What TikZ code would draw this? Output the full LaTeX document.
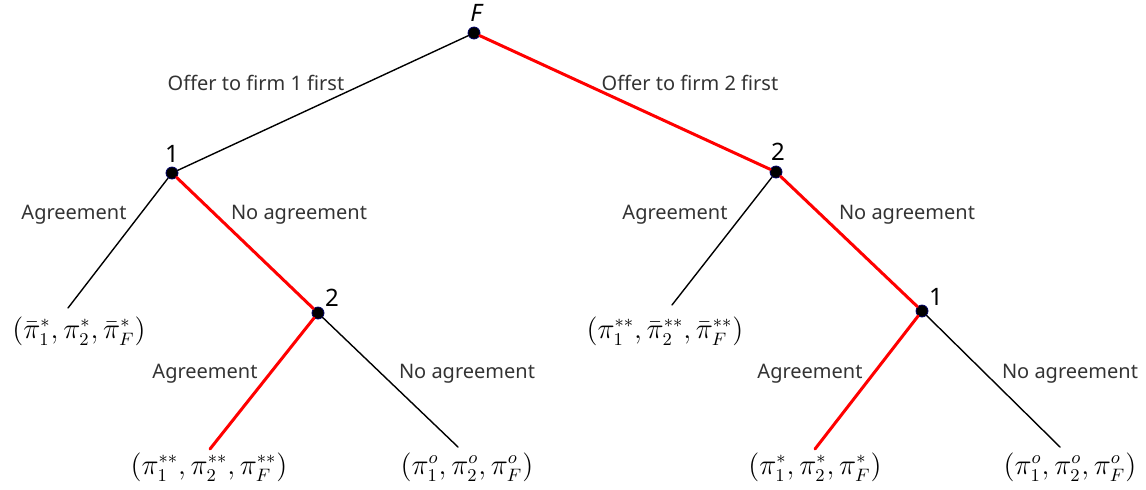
\documentclass[tikz,border=0pt]{standalone}
\usepackage{amsmath}
\usepackage{fontspec}
\setmainfont{Noto Sans}
\usepackage{tikz}
\tikzset{
  every picture/.style={line join=round, line cap=round},
  dec/.style={circle, fill=black, draw=blue!40!black, line width=0.4pt,
    inner sep=0pt, minimum size=6pt},
  plain/.style={draw=black, line width=0.7pt},
  eq/.style={draw=red, line width=1.5pt},
  lab/.style={font=\fontsize{10}{12}\selectfont, text=black!80},
  pay/.style={font=\fontsize{13.5}{15}\selectfont, inner sep=1pt},
  who/.style={font=\fontsize{12}{14}\selectfont},
}
\begin{document}
\begin{tikzpicture}[x=0.5pt,y=-0.5pt]
\useasboundingbox (0,0) rectangle (1146,489);
% decision nodes
\node[dec](F) at (474,33){};
\node[dec](n1) at (172,173){};
\node[dec](n2) at (776,172){};
\node[dec](n12) at (318,313){};
\node[dec](n21) at (922,311){};
\node[who] at (476,13) {\itshape F};
\node[who] at (172,154) {1};
\node[who] at (778,152) {2};
\node[who] at (332,298) {2};
\node[who] at (936,297) {1};
% ends of the branches
\coordinate (a1) at (68,308);
\coordinate (a12) at (210,449);
\coordinate (b12) at (458,447);
\coordinate (a2) at (672,305);
\coordinate (a21) at (815,449);
\coordinate (b21) at (1060,447);
\draw[plain](F)--(n1);
\draw[eq](F)--(n2);
\draw[plain](n1)--(a1);
\draw[eq](n1)--(n12);
\draw[eq](n12)--(a12);
\draw[plain](n12)--(b12);
\draw[plain](n2)--(a2);
\draw[eq](n2)--(n21);
\draw[eq](n21)--(a21);
\draw[plain](n21)--(b21);
% branch labels
\node[lab] at (256,83) {Offer to firm 1 first};
\node[lab] at (690,83) {Offer to firm 2 first};
\node[lab] at (74,215) {Agreement};
\node[lab] at (299,215) {No agreement};
\node[lab] at (675,215) {Agreement};
\node[lab] at (907,215) {No agreement};
\node[lab] at (205,374) {Agreement};
\node[lab] at (467,374) {No agreement};
\node[lab] at (810,374) {Agreement};
\node[lab] at (1070,374) {No agreement};
% payoffs
\node[pay](p1) at (79,331) {$(\bar\pi_1^*,\pi_2^*,\bar\pi_F^*)$};
\node[pay](p12) at (209,467) {$(\pi_1^{**},\pi_2^{**},\pi_F^{**})$};
\node[pay](q12) at (467,467) {$(\pi_1^o,\pi_2^o,\pi_F^o)$};
\node[pay](p2) at (665,331) {$(\pi_1^{**},\bar\pi_2^{**},\bar\pi_F^{**})$};
\node[pay](p21) at (815,467) {$(\pi_1^*,\pi_2^*,\pi_F^*)$};
\node[pay](q21) at (1070,467) {$(\pi_1^o,\pi_2^o,\pi_F^o)$};
\end{tikzpicture}
\end{document}
